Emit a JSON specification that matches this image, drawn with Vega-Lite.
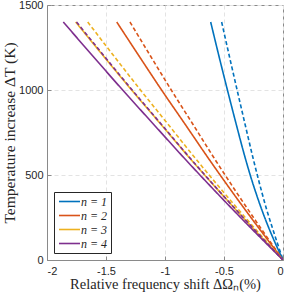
{
  "$schema": "https://vega.github.io/schema/vega-lite/v6.json",
  "width": 236,
  "height": 255,
  "autosize": {"type": "none"},
  "padding": {"left": 47, "top": 5, "right": 5, "bottom": 34},
  "background": "white",
  "config": {
    "view": {"stroke": "#8a8a8a", "strokeWidth": 1},
    "axis": {
      "labelFont": "Liberation Sans",
      "labelFontSize": 11,
      "labelColor": "#262626",
      "titleFont": "Liberation Serif",
      "titleFontSize": 14.5,
      "titleFontWeight": "normal",
      "titleColor": "#262626",
      "domainColor": "#8a8a8a",
      "tickColor": "#8a8a8a",
      "gridColor": "#e3e3e3",
      "gridDash": [4, 3],
      "gridWidth": 1
    }
  },
  "data": {
    "values": [
      {"n": "n = 1", "s": "solid", "x": 0, "T": 0},
      {"n": "n = 1", "s": "solid", "x": -0.066, "T": 100},
      {"n": "n = 1", "s": "solid", "x": -0.127, "T": 200},
      {"n": "n = 1", "s": "solid", "x": -0.182, "T": 300},
      {"n": "n = 1", "s": "solid", "x": -0.232, "T": 400},
      {"n": "n = 1", "s": "solid", "x": -0.278, "T": 500},
      {"n": "n = 1", "s": "solid", "x": -0.320, "T": 600},
      {"n": "n = 1", "s": "solid", "x": -0.397, "T": 800},
      {"n": "n = 1", "s": "solid", "x": -0.471, "T": 1000},
      {"n": "n = 1", "s": "solid", "x": -0.543, "T": 1200},
      {"n": "n = 1", "s": "solid", "x": -0.613, "T": 1400},
      {"n": "n = 1", "s": "dashed", "x": 0, "T": 0},
      {"n": "n = 1", "s": "dashed", "x": -0.048, "T": 100},
      {"n": "n = 1", "s": "dashed", "x": -0.095, "T": 200},
      {"n": "n = 1", "s": "dashed", "x": -0.140, "T": 300},
      {"n": "n = 1", "s": "dashed", "x": -0.180, "T": 400},
      {"n": "n = 1", "s": "dashed", "x": -0.218, "T": 500},
      {"n": "n = 1", "s": "dashed", "x": -0.254, "T": 600},
      {"n": "n = 1", "s": "dashed", "x": -0.322, "T": 800},
      {"n": "n = 1", "s": "dashed", "x": -0.389, "T": 1000},
      {"n": "n = 1", "s": "dashed", "x": -0.455, "T": 1200},
      {"n": "n = 1", "s": "dashed", "x": -0.520, "T": 1400},
      {"n": "n = 2", "s": "solid", "x": 0, "T": 0},
      {"n": "n = 2", "s": "solid", "x": -0.218, "T": 200},
      {"n": "n = 2", "s": "solid", "x": -0.430, "T": 400},
      {"n": "n = 2", "s": "solid", "x": -0.634, "T": 600},
      {"n": "n = 2", "s": "solid", "x": -0.831, "T": 800},
      {"n": "n = 2", "s": "solid", "x": -1.029, "T": 1000},
      {"n": "n = 2", "s": "solid", "x": -1.220, "T": 1200},
      {"n": "n = 2", "s": "solid", "x": -1.409, "T": 1400},
      {"n": "n = 2", "s": "dashed", "x": 0, "T": 0},
      {"n": "n = 2", "s": "dashed", "x": -0.201, "T": 200},
      {"n": "n = 2", "s": "dashed", "x": -0.396, "T": 400},
      {"n": "n = 2", "s": "dashed", "x": -0.584, "T": 600},
      {"n": "n = 2", "s": "dashed", "x": -0.765, "T": 800},
      {"n": "n = 2", "s": "dashed", "x": -0.947, "T": 1000},
      {"n": "n = 2", "s": "dashed", "x": -1.123, "T": 1200},
      {"n": "n = 2", "s": "dashed", "x": -1.297, "T": 1400},
      {"n": "n = 3", "s": "solid", "x": 0, "T": 0},
      {"n": "n = 3", "s": "solid", "x": -0.272, "T": 200},
      {"n": "n = 3", "s": "solid", "x": -0.536, "T": 400},
      {"n": "n = 3", "s": "solid", "x": -0.791, "T": 600},
      {"n": "n = 3", "s": "solid", "x": -1.037, "T": 800},
      {"n": "n = 3", "s": "solid", "x": -1.283, "T": 1000},
      {"n": "n = 3", "s": "solid", "x": -1.522, "T": 1200},
      {"n": "n = 3", "s": "solid", "x": -1.757, "T": 1400},
      {"n": "n = 3", "s": "dashed", "x": 0, "T": 0},
      {"n": "n = 3", "s": "dashed", "x": -0.257, "T": 200},
      {"n": "n = 3", "s": "dashed", "x": -0.505, "T": 400},
      {"n": "n = 3", "s": "dashed", "x": -0.745, "T": 600},
      {"n": "n = 3", "s": "dashed", "x": -0.976, "T": 800},
      {"n": "n = 3", "s": "dashed", "x": -1.208, "T": 1000},
      {"n": "n = 3", "s": "dashed", "x": -1.433, "T": 1200},
      {"n": "n = 3", "s": "dashed", "x": -1.655, "T": 1400},
      {"n": "n = 4", "s": "solid", "x": 0, "T": 0},
      {"n": "n = 4", "s": "solid", "x": -0.289, "T": 200},
      {"n": "n = 4", "s": "solid", "x": -0.568, "T": 400},
      {"n": "n = 4", "s": "solid", "x": -0.838, "T": 600},
      {"n": "n = 4", "s": "solid", "x": -1.099, "T": 800},
      {"n": "n = 4", "s": "solid", "x": -1.359, "T": 1000},
      {"n": "n = 4", "s": "solid", "x": -1.612, "T": 1200},
      {"n": "n = 4", "s": "solid", "x": -1.862, "T": 1400},
      {"n": "n = 4", "s": "dashed", "x": 0, "T": 0},
      {"n": "n = 4", "s": "dashed", "x": -0.271, "T": 200},
      {"n": "n = 4", "s": "dashed", "x": -0.534, "T": 400},
      {"n": "n = 4", "s": "dashed", "x": -0.788, "T": 600},
      {"n": "n = 4", "s": "dashed", "x": -1.033, "T": 800},
      {"n": "n = 4", "s": "dashed", "x": -1.278, "T": 1000},
      {"n": "n = 4", "s": "dashed", "x": -1.516, "T": 1200},
      {"n": "n = 4", "s": "dashed", "x": -1.750, "T": 1400}
    ]
  },
  "mark": {"type": "line", "strokeWidth": 1.6, "interpolate": "monotone", "clip": true},
  "encoding": {
    "x": {
      "field": "x",
      "type": "quantitative",
      "scale": {"domain": [-2, 0], "nice": false, "zero": false},
      "axis": {
        "values": [-2, -1.5, -1, -0.5, 0],
        "labelExpr": "'' + datum.value",
        "title": "Relative frequency shift ΔΩₙ(%)",
        "tickSize": -4,
        "labelPadding": 9,
        "titlePadding": 1,
        "grid": true
      }
    },
    "y": {
      "field": "T",
      "type": "quantitative",
      "scale": {"domain": [0, 1500], "nice": false},
      "axis": {
        "values": [0, 500, 1000, 1500],
        "format": "d",
        "title": "Temperature increase ΔT (K)",
        "titleFontSize": 15.5,
        "tickSize": -4,
        "labelPadding": 8,
        "titlePadding": 1,
        "grid": true
      }
    },
    "color": {
      "field": "n",
      "type": "nominal",
      "scale": {"domain": ["n = 1", "n = 2", "n = 3", "n = 4"], "range": ["#0072BD", "#D95319", "#EDB120", "#7E2F8E"]},
      "legend": {
        "title": null,
        "orient": "bottom-left",
        "offset": 7,
        "symbolType": "M-2,0H2",
        "symbolSize": 110,
        "symbolStrokeWidth": 1.6,
        "labelFont": "Liberation Serif",
        "labelFontStyle": "italic",
        "labelFontSize": 12,
        "labelColor": "#262626",
        "strokeColor": "#262626",
        "fillColor": "white",
        "padding": 3,
        "rowPadding": 1,
        "labelOffset": 5,
        "symbolOffset": 6
      }
    },
    "strokeDash": {
      "field": "s",
      "type": "nominal",
      "scale": {"domain": ["solid", "dashed"], "range": [[1, 0], [4, 2.5]]},
      "legend": null
    }
  }
}
